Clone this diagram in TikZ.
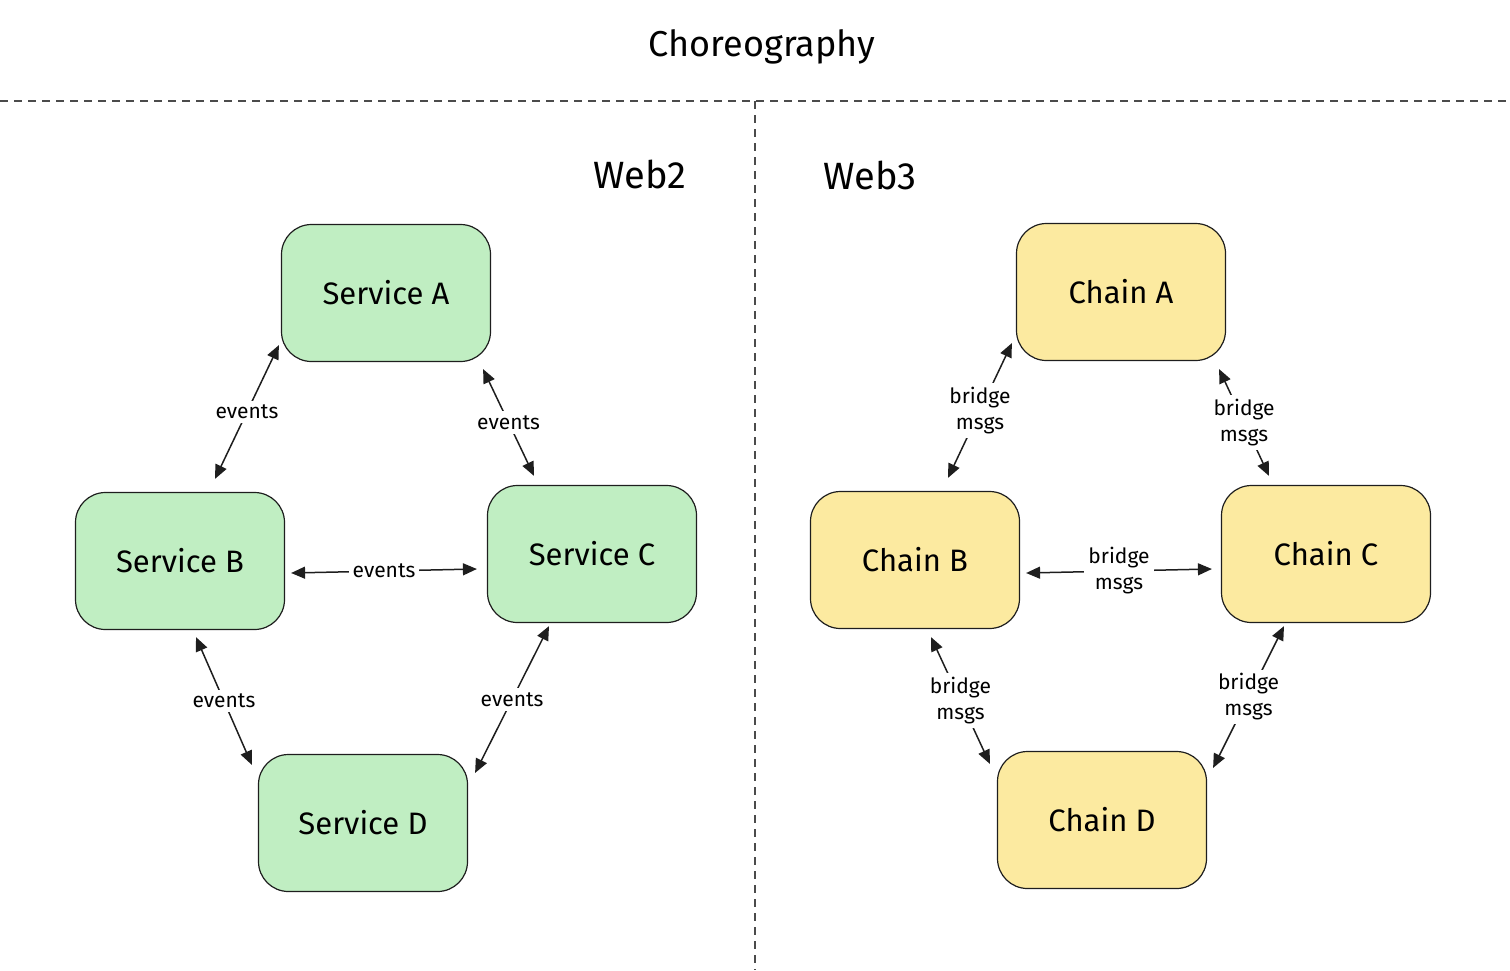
\documentclass[tikz,border=0pt]{standalone}
\usepackage{fontspec}
\setmainfont{Fira Sans}
\usetikzlibrary{arrows.meta,calc}
\definecolor{svcgreen}{HTML}{C0EEC2}
\definecolor{chainyellow}{HTML}{FCEAA0}
\definecolor{ink}{HTML}{1E1E1E}
\begin{document}
\begin{tikzpicture}[x=0.5pt,y=-0.5pt,
        box/.style={draw=ink,line width=0.6pt,rounded corners=15pt,minimum width=104.5pt,minimum height=68.5pt,font=\fontsize{15.5}{18}\selectfont},
        svc/.style={box,fill=svcgreen},
        chain/.style={box,fill=chainyellow},
        link/.style={draw=ink,line width=0.75pt,{Triangle[length=7pt,width=6pt]}-{Triangle[length=7pt,width=6pt]}},
        lbl/.style={fill=white,inner sep=2pt,font=\fontsize{10.5}{13}\selectfont,align=center},
        sep/.style={draw=ink!80,line width=0.6pt,dash pattern=on 4pt off 3pt}]
    \useasboundingbox (0,0) rectangle (1510,970);

    \node[font=\fontsize{18}{20}\selectfont] (title) at (762,47) {Choreography};
    \draw[sep] (0,101) -- (1510,101);
    \draw[sep] (755,101) -- (755,970);

    \node[font=\fontsize{19}{20}\selectfont] (web2) at (640,174) {Web2};
    \node[font=\fontsize{19}{20}\selectfont] (web3) at (870,175) {Web3};

    \node[svc] (sa) at (386,293) {Service A};
    \node[svc] (sb) at (180,561) {Service B};
    \node[svc] (sc) at (592,554) {Service C};
    \node[svc] (sd) at (363,823) {Service D};

    \draw[link] ($(sb.north)+(35,-13)$) -- node[lbl]{events} ($(sa.south west)+(-2,-17)$);
    \draw[link] ($(sa.south east)+(-8,7)$) -- node[lbl]{events} ($(sc.north)+(-58,-9)$);
    \draw[link] ($(sb.east)+(6,12)$) -- node[lbl]{events} ($(sc.west)+(-10,15)$);
    \draw[link] ($(sb.south)+(16,7)$) -- node[lbl]{events} ($(sd.north west)+(-6,11)$);
    \draw[link] ($(sc.south)+(-43,3)$) -- node[lbl]{events} ($(sd.north east)+(7,19)$);

    \node[chain] (ca) at (1121,292) {Chain A};
    \node[chain] (cb) at (915,560) {Chain B};
    \node[chain] (cc) at (1326,554) {Chain C};
    \node[chain] (cd) at (1102,820) {Chain D};

    \draw[link] ($(ca.south west)+(-4,-18)$) -- node[lbl]{bridge\\msgs} ($(cb.north)+(33,-13)$);
    \draw[link] ($(ca.south east)+(-7,8)$) -- node[lbl]{bridge\\msgs} ($(cc.north)+(-57,-9)$);
    \draw[link] ($(cb.east)+(6,13)$) -- node[lbl]{bridge\\msgs} ($(cc.west)+(-9,15)$);
    \draw[link] ($(cb.south)+(16,8)$) -- node[lbl]{bridge\\msgs} ($(cd.north west)+(-7,13)$);
    \draw[link] ($(cc.south)+(-42,3)$) -- node[lbl]{bridge\\msgs} ($(cd.north east)+(6,17)$);
\end{tikzpicture}
\end{document}
